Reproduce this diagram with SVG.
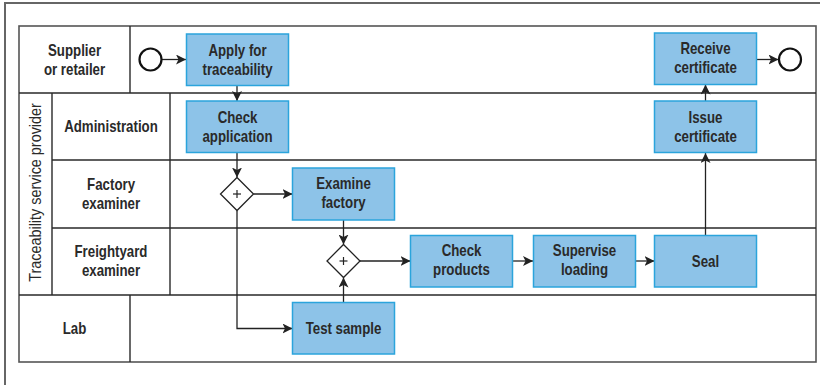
<svg xmlns="http://www.w3.org/2000/svg" width="820" height="385" viewBox="0 0 820 385">
  <defs>
    <marker id="arrow" viewBox="0 0 10 10" refX="10" refY="5" markerWidth="10" markerHeight="10" markerUnits="userSpaceOnUse" orient="auto">
      <path d="M0,0 L10,5 L0,10 L2.5,5 Z" fill="#222"/>
    </marker>
    <style>
      .frame { fill: none; stroke: #666; stroke-width: 2; }
      .pool { fill: #fff; stroke: #555; stroke-width: 1.6; }
      .lane { fill: none; stroke: #2a2a2a; stroke-width: 1.4; }
      .task rect { fill: #8dc3e8; stroke: #2ba4dc; stroke-width: 1.5; }
      .txt, .lbl, .vlbl { font-family: "Liberation Sans", Arial, sans-serif; font-size: 16px; font-weight: bold; fill: #2a2a2a; text-anchor: middle;
                   transform-box: fill-box; transform-origin: center; transform: scaleX(0.83); }
      .vlbl { font-weight: normal; transform: scaleX(0.9); }
      .event { fill: #fff; stroke: #111; stroke-width: 2.2; }
      .gw polygon { fill: #fff; stroke: #222; stroke-width: 1.3; }
      .gw line { stroke: #222; stroke-width: 1.2; }
      .conn path { fill: none; stroke: #222; stroke-width: 1.3; marker-end: url(#arrow); }
    </style>
  </defs>

  <rect width="820" height="385" fill="#fff"/>
  <!-- page frame -->
  <path class="frame" d="M5,385 L5,3 L820,3"/>

  <!-- pool and lanes -->
  <g id="lanes">
    <rect class="pool" x="19" y="26" width="797" height="336"/>
    <path class="lane" d="M19,93 H816 M19,295 H816 M130,26 V93 M130,295 V362 M52,93 V295 M170,93 V295 M52,160 H816 M52,228 H816"/>
    <text class="lbl" x="74.5" y="56">Supplier</text>
    <text class="lbl" x="74.5" y="75">or retailer</text>
    <g transform="translate(41,192.5) rotate(-90)">
      <text class="vlbl" x="0" y="0">Traceability service provider</text>
    </g>
    <text class="lbl" x="111" y="132">Administration</text>
    <text class="lbl" x="111" y="190">Factory</text>
    <text class="lbl" x="111" y="209">examiner</text>
    <text class="lbl" x="111" y="257">Freightyard</text>
    <text class="lbl" x="111" y="276">examiner</text>
    <text class="lbl" x="74.5" y="334">Lab</text>
  </g>

  <!-- connectors -->
  <g id="connectors" class="conn">
    <path d="M161.5,59.5 H186"/>
    <path d="M237,85.5 V101"/>
    <path d="M237,153 V177.5"/>
    <path d="M253.5,194 H292.5"/>
    <path d="M237,210.5 V328.5 H292.5"/>
    <path d="M343.5,220 V244.5"/>
    <path d="M343.5,302.5 V277.5"/>
    <path d="M360,261 H410.5"/>
    <path d="M512.5,261 H533"/>
    <path d="M635.5,261 H654.5"/>
    <path d="M705.5,235 V153"/>
    <path d="M705.5,101 V84.5"/>
    <path d="M756.5,59.5 H778.5"/>
  </g>

  <!-- events -->
  <g id="start"><circle class="event" cx="150.5" cy="59.5" r="11"/></g>
  <g id="end"><circle class="event" cx="790" cy="59.5" r="11"/></g>

  <!-- gateways -->
  <g id="gateway-split" class="gw">
    <polygon points="237,177.5 253.5,194 237,210.5 220.5,194"/>
    <line x1="233" y1="194" x2="241" y2="194"/><line x1="237" y1="190" x2="237" y2="198"/>
  </g>
  <g id="gateway-join" class="gw">
    <polygon points="343.5,244.5 360,261 343.5,277.5 327,261"/>
    <line x1="339.5" y1="261" x2="347.5" y2="261"/><line x1="343.5" y1="257" x2="343.5" y2="265"/>
  </g>

  <!-- tasks -->
  <g id="apply" class="task">
    <rect x="186.5" y="34" width="102" height="51.5"/>
    <text class="txt" x="237.5" y="56">Apply for</text>
    <text class="txt" x="237.5" y="75">traceability</text>
  </g>
  <g id="check-application" class="task">
    <rect x="186.5" y="101" width="102" height="51.5"/>
    <text class="txt" x="237.5" y="123">Check</text>
    <text class="txt" x="237.5" y="142">application</text>
  </g>
  <g id="examine-factory" class="task">
    <rect x="292.5" y="168" width="102" height="52"/>
    <text class="txt" x="343.5" y="189">Examine</text>
    <text class="txt" x="343.5" y="208">factory</text>
  </g>
  <g id="test-sample" class="task">
    <rect x="292.5" y="302.5" width="102" height="51.5"/>
    <text class="txt" x="343.5" y="334">Test sample</text>
  </g>
  <g id="check-products" class="task">
    <rect x="410.5" y="235.5" width="102" height="51.5"/>
    <text class="txt" x="461.5" y="256">Check</text>
    <text class="txt" x="461.5" y="275">products</text>
  </g>
  <g id="supervise-loading" class="task">
    <rect x="533.5" y="235.5" width="102" height="51.5"/>
    <text class="txt" x="584.5" y="256">Supervise</text>
    <text class="txt" x="584.5" y="275">loading</text>
  </g>
  <g id="seal" class="task">
    <rect x="654.5" y="235.5" width="102" height="51.5"/>
    <text class="txt" x="705.5" y="267">Seal</text>
  </g>
  <g id="issue-certificate" class="task">
    <rect x="654.5" y="101" width="102" height="51.5"/>
    <text class="txt" x="705.5" y="123">Issue</text>
    <text class="txt" x="705.5" y="142">certificate</text>
  </g>
  <g id="receive-certificate" class="task">
    <rect x="654.5" y="33" width="102" height="51.5"/>
    <text class="txt" x="705.5" y="54">Receive</text>
    <text class="txt" x="705.5" y="73">certificate</text>
  </g>
</svg>
